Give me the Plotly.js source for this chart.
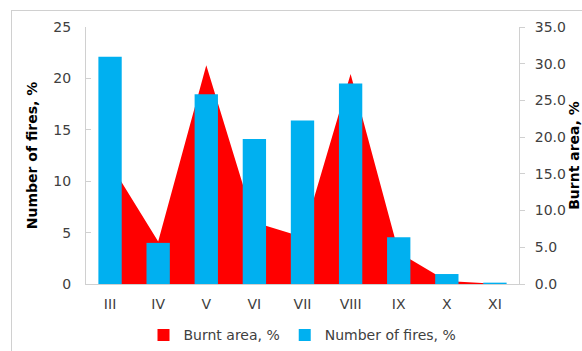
<!DOCTYPE html>
<html>
<head>
<meta charset="utf-8">
<script src="https://cdn.plot.ly/plotly-3.0.1.min.js"></script>
<style>
  html, body { margin: 0; padding: 0; background: #fff; }
  #wrap { position: relative; width: 582px; height: 351px; overflow: hidden; }
  #frame { position: absolute; left: 11px; top: 10px; width: 600px; height: 400px; border: 1px solid #d0d0d0; box-sizing: border-box; }
  #chart { position: absolute; left: 0; top: 0; width: 582px; height: 351px; }
</style>
</head>
<body>
<div id="wrap">
  <div id="frame"></div>
  <div id="chart"></div>
</div>
<script>
const months = ["III", "IV", "V", "VI", "VII", "VIII", "IX", "X", "XI"];
const numberOfFires = [22.1, 4.0, 18.45, 14.1, 15.9, 19.5, 4.55, 0.97, 0.13];
const burntArea = [16.4, 5.8, 29.8, 8.4, 6.4, 28.6, 4.3, 0.4, 0.05];

const areaTrace = {
  x: months, y: burntArea, name: "Burnt area, %",
  type: "scatter", mode: "none", fill: "tozeroy",
  fillcolor: "#FF0000", yaxis: "y", hoverinfo: "skip", showlegend: false
};
// legend-only swatch for the area series (square key like the original)
const areaKey = {
  x: [months[0]], y: [null], name: "Burnt area, %", type: "bar",
  marker: { color: "#FF0000" }, yaxis: "y2", showlegend: true
};
const barTrace = {
  x: months, y: numberOfFires, name: "Number of fires, %",
  type: "bar", marker: { color: "#00B0F0" }, yaxis: "y2"
};

const fontFam = "DejaVu Sans, Verdana, sans-serif";
const layout = {
  width: 582, height: 351,
  margin: { l: 86, r: 63, t: 27, b: 67, autoexpand: false },
  paper_bgcolor: "rgba(0,0,0,0)", plot_bgcolor: "rgba(0,0,0,0)",
  font: { family: fontFam, size: 14, color: "#404040" },
  bargap: 0.515, barmode: "overlay",
  showlegend: true,
  legend: { orientation: "h", x: 0.5, xanchor: "center", y: -0.2, yanchor: "middle",
            font: { size: 14, color: "#404040" }, itemwidth: 30, traceorder: "normal" },
  xaxis: {
    type: "category", showline: true, linecolor: "#d0d0d0", linewidth: 1,
    ticks: "", showgrid: false, zeroline: false, tickfont: { size: 14 },
    ticklabelstandoff: 7, automargin: false
  },
  yaxis: {
    side: "right", range: [0, 35], dtick: 5, tickformat: ".1f",
    showline: true, linecolor: "#d0d0d0", ticks: "outside", ticklen: 5, tickcolor: "#d0d0d0",
    ticklabelstandoff: 7, automargin: false,
    showgrid: false, zeroline: false,
    title: { text: "Burnt area, %", font: { family: fontFam, size: 14, color: "#000", weight: "bold" }, standoff: 15 }
  },
  yaxis2: {
    overlaying: "y", side: "left", range: [0, 25], dtick: 5,
    showline: true, linecolor: "#d0d0d0", ticks: "inside", ticklen: 5, tickcolor: "#d0d0d0",
    ticklabelstandoff: 11, automargin: false,
    showgrid: false, zeroline: false,
    title: { text: "Number of fires, %", font: { family: fontFam, size: 14, color: "#000", weight: "bold" }, standoff: 12 }
  }
};

Plotly.newPlot("chart", [areaTrace, areaKey, barTrace], layout, { displayModeBar: false, staticPlot: true });
</script>
</body>
</html>
